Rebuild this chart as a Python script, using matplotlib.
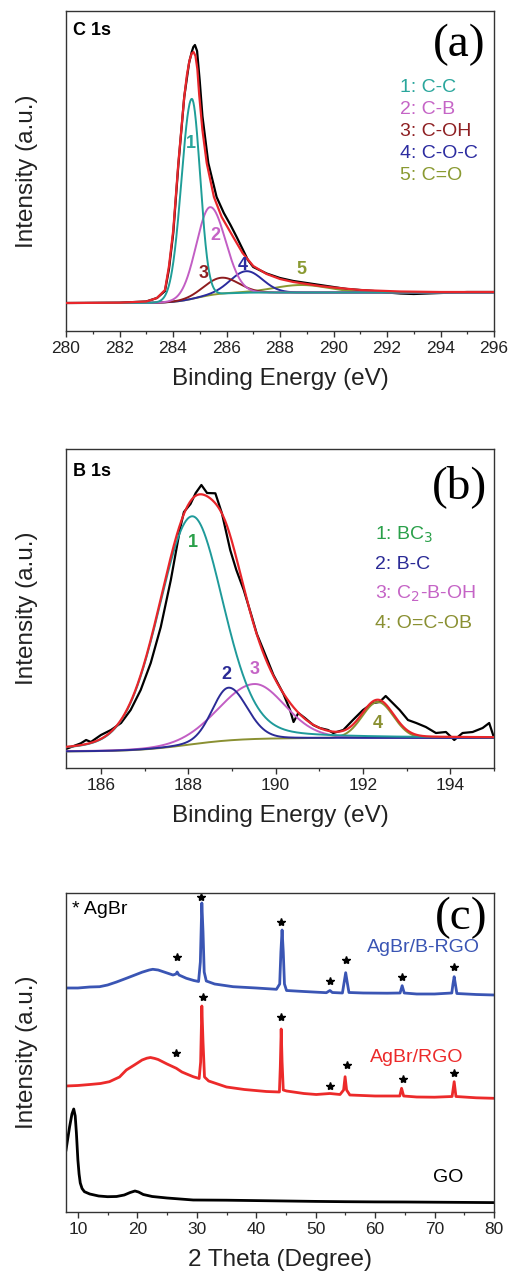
import numpy as np
import matplotlib
matplotlib.use("Agg")
import matplotlib.pyplot as plt
from matplotlib.ticker import MultipleLocator

plt.rcParams['font.family'] = ['Liberation Sans', 'DejaVu Sans']

# ---------------- Panel (a): C 1s ----------------
c1s_labels = ["1: C-C", "2: C-B", "3: C-OH", "4: C-O-C", "5: C=O"]
c1s_center = [284.70, 285.38, 285.80, 286.75, 288.80]
c1s_height = [200.0, 88.0, 16.0, 21.5, 7.5]
c1s_hwhm_left = [0.45, 0.60, 0.75, 0.70, 1.20]
c1s_hwhm_right = [0.37, 0.68, 0.75, 0.70, 1.20]
c1s_eta = [0.0, 0.0, 0.0, 0.0, 0.0]
c1s_bg_low, c1s_bg_high, c1s_bg_mid, c1s_bg_scale = 28.0, 38.5, 284.9, 0.45
# measured spectrum (black)
c1s_raw_x = [280.0, 282.0, 283.0, 283.4, 283.7, 283.85, 284.01, 284.2, 284.42, 284.6,
             284.7, 284.76, 284.82, 284.9, 285.0, 285.1, 285.32, 285.63, 285.9, 286.15,
             286.38, 286.6, 286.8, 287.0, 287.5, 288.0, 288.5, 289.0, 289.5, 290.0,
             290.5, 291.0, 291.5, 292.0, 292.5, 293.0, 293.5, 294.0, 294.5, 295.0, 296.0]
c1s_raw_y = [28.0, 28.3, 29.5, 33.0, 40.0, 62.0, 98.0, 166.0, 234.0, 268.0,
             279.0, 284.0, 286.0, 280.0, 250.0, 215.0, 168.0, 134.0, 118.0, 106.0,
             94.0, 82.0, 71.0, 64.0, 57.5, 53.0, 50.0, 48.0, 46.0, 44.0,
             42.0, 41.0, 40.0, 38.5, 37.5, 37.0, 37.5, 38.0, 38.5, 39.0, 39.0]
# overall fit envelope (red)
c1s_fit_x = [280.0, 282.0, 283.0, 283.4, 283.7, 283.85, 284.01, 284.2, 284.42, 284.52,
             284.62, 284.7, 284.77, 284.84, 284.91, 284.98, 285.1, 285.26, 285.53, 285.82,
             286.25, 286.6, 287.0, 287.5, 288.0, 288.5, 289.0, 289.5, 290.0, 291.0,
             292.5, 294.0, 296.0]
c1s_fit_y = [28.0, 28.3, 29.5, 33.0, 41.0, 65.0, 101.0, 168.0, 234.0, 256.0,
             271.0, 277.5, 279.0, 275.0, 262.0, 236.0, 201.0, 168.0, 134.0, 114.0,
             94.0, 78.0, 65.0, 57.0, 52.0, 49.0, 47.0, 45.0, 43.5, 41.0,
             39.5, 39.0, 39.0]
c1s_colors = ["#1f9e98", "#c25ec4", "#8e1c1f", "#2b2b9e", "#8a9a32"]
c1s_text_colors = ["#2aa69c", "#c564c6", "#8e1f22", "#2c2ca0", "#8a9a32"]
c1s_num_x = [284.67, 285.57, 285.16, 286.59, 288.81]
c1s_num_y = [188, 96, 58, 66, 62]

# ---------------- Panel (b): B 1s ----------------
b1s_center = [188.08, 188.92, 189.51, 192.34]
b1s_height = [228.0, 52.7, 55.0, 36.0]
b1s_hwhm_left = [0.90, 0.44, 0.95, 0.42]
b1s_hwhm_right = [0.85, 0.50, 0.82, 0.42]
b1s_eta = [0.2, 0.1, 0.1, 0.0]
b1s_bg_low, b1s_bg_high, b1s_bg_mid, b1s_bg_scale = 16.5, 30.0, 188.0, 0.6
b1s_raw_x = [185.24, 185.54, 185.66, 185.77, 186.0, 186.23, 186.46, 186.68, 186.91,
             187.14, 187.37, 187.6, 187.82, 187.9, 188.05, 188.17, 188.3, 188.43,
             188.62, 188.77, 188.96, 189.1, 189.27, 189.45, 189.57, 189.72, 189.95,
             190.18, 190.33, 190.41, 190.52, 190.67, 190.86, 191.01, 191.2, 191.32,
             191.55, 191.77, 192.0, 192.23, 192.38, 192.52, 192.68, 192.84, 193.03,
             193.22, 193.44, 193.67, 193.9, 194.09, 194.28, 194.51, 194.74, 194.89,
             194.98]
b1s_raw_y = [19.7, 24.7, 28.0, 26.0, 33.0, 38.0, 45.0, 58.0, 78.0,
             105.0, 141.0, 188.0, 241.0, 256.0, 264.0, 275.0, 283.0, 275.0,
             274.7, 254.7, 218.0, 198.0, 178.0, 152.0, 134.0, 118.0, 93.0,
             74.0, 58.0, 46.0, 55.0, 50.0, 43.0, 40.0, 38.0, 35.0,
             38.0, 48.0, 58.0, 65.0, 66.0, 72.0, 65.0, 58.0, 48.0,
             45.0, 41.0, 35.0, 36.0, 28.0, 35.0, 36.0, 40.0, 45.0,
             33.0]
b1s_colors = ["#1f9a9a", "#2b2b96", "#c25ec4", "#8a9032"]
b1s_text_colors = ["#2aa04a", "#2b2b96", "#c564c6", "#8a9032"]
b1s_labels = ["1: BC$_3$", "2: B-C", "3: C$_2$-B-OH", "4: O=C-OB"]
b1s_num_x = [188.11, 188.87, 189.51, 192.34]
b1s_num_y = [226, 94, 99, 45]

# ---------------- Panel (c): XRD ----------------
xrd_blue_x = [8.0, 10.0, 12.0, 13.65, 15.0, 16.5, 18.15, 19.5, 20.8, 22.0, 22.6, 23.5,
              24.5, 26.0, 26.5, 26.7, 27.0, 28.25, 29.5, 30.3, 30.6, 30.85, 31.05, 31.25,
              31.6, 33.0, 36.1, 40.0, 43.4, 43.95, 44.15, 44.35, 44.55, 44.75, 45.1, 48.0,
              51.8, 52.4, 52.8, 54.5, 54.8, 55.05, 55.3, 55.6, 58.0, 62.0, 64.2, 64.55,
              64.9, 67.0, 70.0, 72.9, 73.1, 73.3, 73.5, 73.75, 77.0, 80.0]
xrd_blue_y = [224.0, 224.0, 225.0, 225.3, 227.0, 230.0, 233.7, 236.8, 239.8, 242.0, 242.7, 242.0,
              240.0, 237.0, 238.0, 240.0, 237.0, 233.7, 231.5, 230.5, 250.0, 309.0, 280.0, 240.0,
              231.0, 228.0, 225.3, 224.0, 222.7, 228.0, 260.0, 282.0, 260.0, 228.0, 221.5, 220.5,
              219.3, 221.5, 219.5, 219.0, 230.0, 239.3, 230.0, 219.5, 219.0, 218.8, 219.0, 226.3,
              219.0, 218.0, 218.0, 219.0, 228.0, 235.3, 228.0, 218.5, 217.5, 217.0]
xrd_red_x = [8.0, 10.0, 12.0, 13.8, 15.3, 17.0, 18.15, 19.5, 20.8, 21.6, 22.2, 22.9, 23.5,
             25.0, 26.56, 27.5, 28.5, 29.4, 30.4, 30.65, 30.85, 31.05, 31.3, 32.0, 35.0,
             38.0, 41.7, 43.9, 44.05, 44.2, 44.35, 44.55, 45.1, 48.0, 50.1, 52.4, 54.1,
             54.7, 54.95, 55.2, 55.75, 60.0, 64.15, 64.45, 64.8, 67.0, 70.0, 72.95, 73.3,
             73.6, 77.0, 80.0]
xrd_red_y = [126.0, 126.5, 127.5, 128.5, 130.3, 135.0, 142.0, 147.0, 152.0, 153.8, 154.5, 153.6,
             152.5, 148.0, 143.7, 140.0, 137.5, 135.3, 133.5, 150.0, 206.0, 170.0, 135.0, 131.0,
             125.0, 122.5, 120.5, 120.0, 145.0, 183.0, 150.0, 122.0, 121.0, 118.5, 117.5, 118.5,
             117.5, 122.0, 135.3, 122.0, 117.0, 116.0, 116.0, 123.7, 116.0, 115.0, 114.8, 115.5,
             130.3, 115.5, 114.2, 113.7]
xrd_go_x = [8.0, 8.6, 9.0, 9.3, 9.55, 9.75, 10.0, 10.2, 10.4, 10.7, 11.1, 12.0, 13.5,
            15.0, 16.5, 17.8, 18.8, 19.6, 20.2, 21.0, 22.5, 25.0, 29.4, 35.0, 40.0,
            45.0, 50.0, 55.0, 60.0, 65.0, 70.0, 75.0, 80.0]
xrd_go_y = [62.0, 85.0, 98.0, 103.0, 96.0, 79.0, 52.0, 38.0, 29.0, 23.5, 20.3, 18.0, 16.0,
            15.3, 15.5, 17.0, 19.5, 21.0, 20.0, 17.5, 15.5, 14.0, 12.0, 11.8, 11.4,
            11.0, 10.6, 10.3, 10.1, 10.0, 9.8, 9.6, 9.4]
star_blue_x = [26.73, 30.78, 44.25, 52.4, 55.05, 64.45, 73.3]
star_blue_y = [254.7, 314.7, 289.7, 231.3, 252.0, 235.3, 244.7]
star_red_x = [26.56, 31.05, 44.13, 52.38, 55.2, 64.7, 73.26]
star_red_y = [158.7, 215.3, 194.7, 126.0, 147.0, 132.7, 139.3]


def peak(x, c, h, wl, wr, eta):
    w = np.where(x < c, wl, wr)
    r = (x - c) / w
    return h * ((1 - eta) * np.exp(-np.log(2) * r ** 2) + eta / (1 + r ** 2))


def background(x, lo, hi, mid, s):
    return lo + (hi - lo) / (1 + np.exp(-(x - mid) / s))


W, H = 511, 1277
fig = plt.figure(figsize=(W / 100, H / 100), dpi=100)
L = 66 / W
Wd = 428 / W
LABEL_FS = 17.5


def make_ax(top_px, bot_px):
    return fig.add_axes([L, 1 - bot_px / H, Wd, (bot_px - top_px) / H])


def style(ax, major, minor, xlabel):
    for s in ax.spines.values():
        s.set_linewidth(1.0)
        s.set_color("#333333")
    ax.set_yticks([])
    ax.xaxis.set_major_locator(MultipleLocator(major))
    ax.xaxis.set_minor_locator(MultipleLocator(minor))
    ax.tick_params(axis='x', which='major', direction='out', length=4, width=1.0,
                   labelsize=12.5, pad=3, colors="#333333", labelcolor="#222222")
    ax.tick_params(axis='x', which='minor', direction='out', length=2.5, width=0.9,
                   colors="#333333")
    ax.set_ylabel("Intensity (a.u.)", fontsize=LABEL_FS, color="#222222", labelpad=20)
    ax.set_xlabel(xlabel, fontsize=LABEL_FS, color="#222222", labelpad=9)


# ---- (a)
ax = make_ax(11, 331)
xa = np.linspace(280, 296, 1200)
bga = background(xa, c1s_bg_low, c1s_bg_high, c1s_bg_mid, c1s_bg_scale)
ax.plot(c1s_raw_x, c1s_raw_y, color="black", lw=1.6, zorder=2)
for i in [4, 3, 2, 1, 0]:
    p = peak(xa, c1s_center[i], c1s_height[i], c1s_hwhm_left[i], c1s_hwhm_right[i], c1s_eta[i])
    ax.plot(xa, bga + p, color=c1s_colors[i], lw=1.4, zorder=3)
ax.plot(c1s_fit_x, c1s_fit_y, color="#e8262b", lw=1.6, zorder=4)
ax.set_xlim(280, 296)
ax.set_ylim(0, 320)
style(ax, 2, 1, "Binding Energy (eV)")
ax.text(0.016, 0.94, "C 1s", transform=ax.transAxes, fontsize=13, fontweight='bold',
        va='center', ha='left')
ax.text(0.918, 0.895, "(a)", transform=ax.transAxes, fontsize=34,
        family='Liberation Serif', va='center', ha='center')
for i in range(5):
    ax.text(0.78, 1 - (87 + 22.2 * i - 11) / 320, c1s_labels[i], transform=ax.transAxes,
            fontsize=14, color=c1s_text_colors[i], va='center', ha='left')
    ax.text(c1s_num_x[i], c1s_num_y[i], str(i + 1), fontsize=13, fontweight='bold',
            color=c1s_text_colors[i], ha='center', va='center', zorder=5)

# ---- (b)
ax = make_ax(449, 768)
xb = np.linspace(185.2, 195, 1200)
bgb = background(xb, b1s_bg_low, b1s_bg_high, b1s_bg_mid, b1s_bg_scale)
envb = bgb.copy()
compsb = []
for i in range(4):
    p = peak(xb, b1s_center[i], b1s_height[i], b1s_hwhm_left[i], b1s_hwhm_right[i], b1s_eta[i])
    compsb.append(bgb + p)
    envb = envb + p
ax.plot(b1s_raw_x, b1s_raw_y, color="black", lw=1.6, zorder=2)
for i in [3, 2, 1, 0]:
    ax.plot(xb, compsb[i], color=b1s_colors[i], lw=1.4, zorder=3)
ax.plot(xb, envb, color="#e8262b", lw=1.6, zorder=4)
ax.set_xlim(185.2, 195)
ax.set_ylim(0, 319)
style(ax, 2, 1, "Binding Energy (eV)")
ax.text(0.016, 1 - (471 - 449) / 319, "B 1s", transform=ax.transAxes, fontsize=13,
        fontweight='bold', va='center', ha='left')
ax.text(0.92, 1 - (487 - 449) / 319, "(b)", transform=ax.transAxes, fontsize=34,
        family='Liberation Serif', va='center', ha='center')
for i in range(4):
    ax.text(0.722, 1 - (535 + 29.5 * i - 449) / 319, b1s_labels[i], transform=ax.transAxes,
            fontsize=14, color=b1s_text_colors[i], va='center', ha='left')
    ax.text(b1s_num_x[i], b1s_num_y[i], str(i + 1), fontsize=13, fontweight='bold',
            color=b1s_text_colors[i], ha='center', va='center', zorder=5)

# ---- (c)
ax = make_ax(893, 1212)
ax.plot(xrd_blue_x, xrd_blue_y, color="#3a55b4", lw=2.0)
ax.plot(xrd_red_x, xrd_red_y, color="#ec2a2a", lw=2.0)
ax.plot(xrd_go_x, xrd_go_y, color="black", lw=2.0)
ax.plot(star_blue_x, star_blue_y, ls='none', marker='*', color='black', ms=6)
ax.plot(star_red_x, star_red_y, ls='none', marker='*', color='black', ms=6)
ax.set_xlim(8, 80)
ax.set_ylim(0, 319)
style(ax, 10, 5, "2 Theta (Degree)")
ax.text(0.015, 1 - (910 - 893) / 319, "* AgBr", transform=ax.transAxes, fontsize=14,
        va='center', ha='left')
ax.text(0.924, 1 - (918 - 893) / 319, "(c)", transform=ax.transAxes, fontsize=34,
        family='Liberation Serif', va='center', ha='center')
ax.text(0.967, 1 - (948 - 893) / 319, "AgBr/B-RGO", transform=ax.transAxes, fontsize=14,
        color="#3a55b4", va='center', ha='right')
ax.text(0.928, 1 - (1057 - 893) / 319, "AgBr/RGO", transform=ax.transAxes, fontsize=14,
        color="#ec2a2a", va='center', ha='right')
ax.text(0.928, 1 - (1178 - 893) / 319, "GO", transform=ax.transAxes, fontsize=14,
        color="black", va='center', ha='right')

fig.savefig("out.png", dpi=100)
